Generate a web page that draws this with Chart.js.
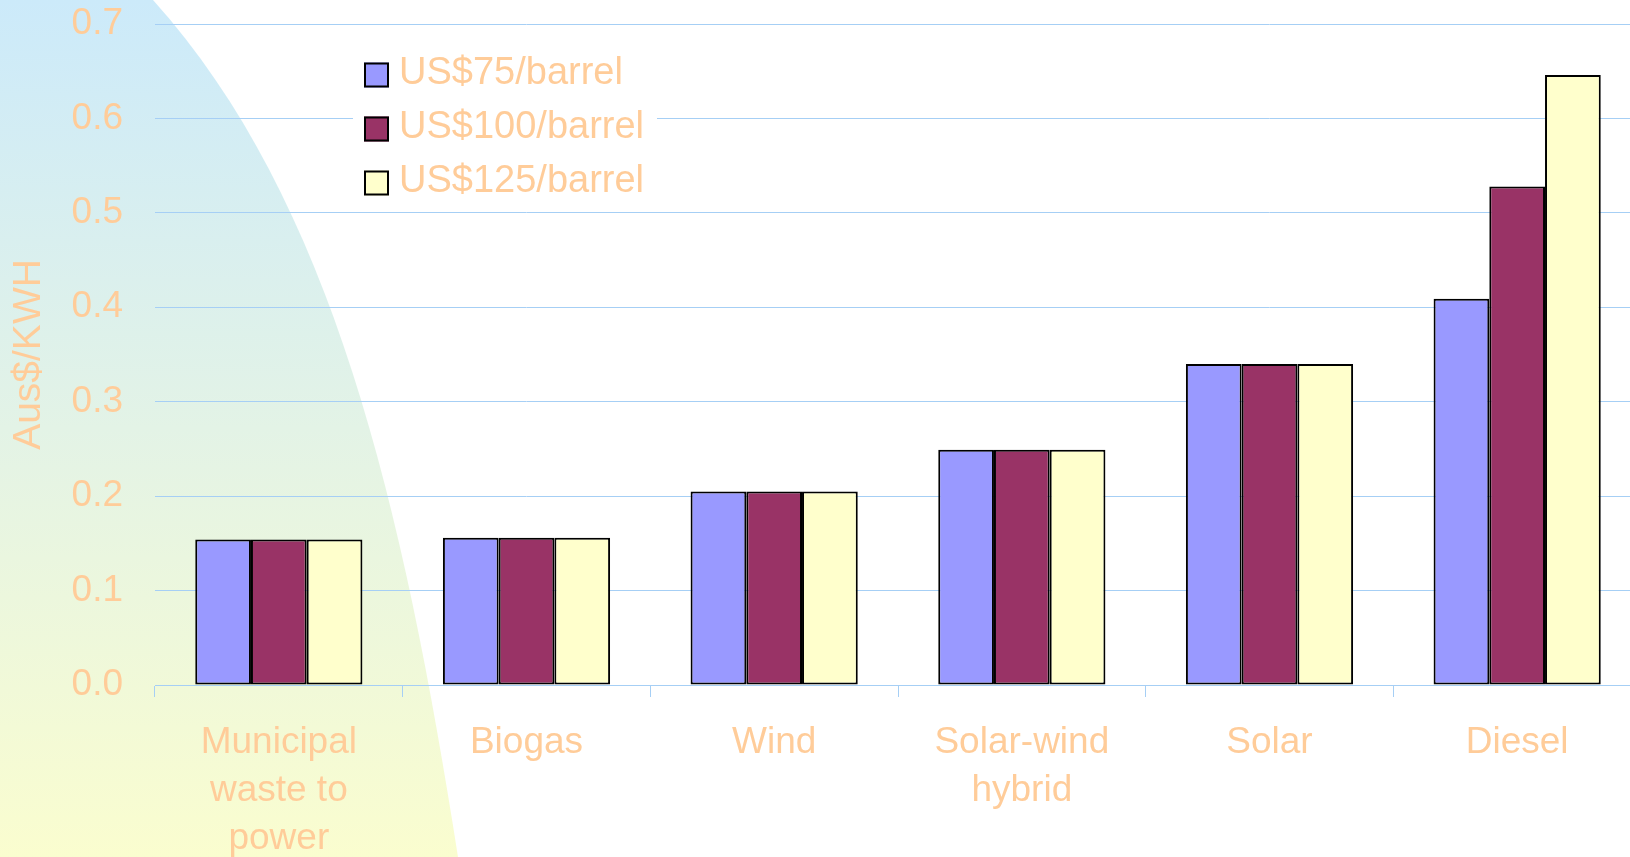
<!DOCTYPE html>
<html>
<head>
<meta charset="utf-8">
<script src="https://cdn.jsdelivr.net/npm/chart.js@4"></script>
<style>
  html, body { margin: 0; padding: 0; background: #fff; overflow: hidden; }
  #wrap { position: absolute; left: 0; top: 0; width: 1641px; height: 857px; }
</style>
</head>
<body>
<div id="wrap"><canvas id="myChart"></canvas></div>
<script>
const categories = [['Municipal', 'waste to', 'power'], 'Biogas', 'Wind', ['Solar-wind', 'hybrid'], 'Solar', 'Diesel'];
const series_names = ['US$75/barrel', 'US$100/barrel', 'US$125/barrel'];
const oil_75 = [0.154, 0.156, 0.205, 0.249, 0.340, 0.409];
const oil_100 = [0.154, 0.156, 0.205, 0.249, 0.340, 0.528];
const oil_125 = [0.154, 0.156, 0.205, 0.249, 0.340, 0.646];
const y_ticks = [0, 0.1, 0.2, 0.3, 0.4, 0.5, 0.6, 0.7];

const text_color = '#FFCC99';
const grid_color = '#A6CFF5';
const font_family = '"Liberation Sans", Arial, sans-serif';

// decorative swoosh on the left, behind the plot
const backgroundShape = {
    id: 'backgroundShape',
    beforeDraw: (chart) => {
        const ctx = chart.ctx;
        const h = chart.height;
        ctx.save();
        ctx.fillStyle = '#ffffff';
        ctx.fillRect(0, 0, chart.width, h);
        const grad = ctx.createLinearGradient(0, 0, 0, h);
        grad.addColorStop(0, '#CCEAFA');
        grad.addColorStop(0.5, '#E3F3E6');
        grad.addColorStop(1, '#FAFDCF');
        ctx.beginPath();
        ctx.moveTo(0, 0);
        ctx.lineTo(153, 0);
        ctx.bezierCurveTo(333, 200, 403, 507, 458, h);
        ctx.lineTo(0, h);
        ctx.closePath();
        ctx.fillStyle = grad;
        ctx.fill();
        ctx.restore();
    }
};

// legend drawn inside the plot area
const insideLegend = {
    id: 'insideLegend',
    afterDraw: (chart) => {
        const ctx = chart.ctx;
        ctx.save();
        ctx.fillStyle = '#ffffff';
        ctx.fillRect(353, 46, 304, 158);
        chart.data.datasets.forEach((ds, i) => {
            const cy = 74.5 + i * 54;
            ctx.fillStyle = ds.backgroundColor;
            ctx.fillRect(364, cy - 12, 25, 25);
            ctx.lineWidth = 2;
            ctx.strokeStyle = '#000000';
            ctx.strokeRect(365, cy - 11, 23, 23);
            ctx.fillStyle = text_color;
            ctx.font = '38px ' + font_family;
            ctx.textAlign = 'left';
            ctx.textBaseline = 'middle';
            ctx.fillText(ds.label, 399, cy - 1);
        });
        ctx.restore();
    }
};

const makeDataset = (label, data, color) => ({
    label,
    data,
    backgroundColor: color,
    borderColor: '#000000',
    borderWidth: 2,
    borderSkipped: false,
    categoryPercentage: 0.675,
    barPercentage: 1.0
});

const config = {
    type: 'bar',
    data: {
        labels: categories,
        datasets: [
            makeDataset(series_names[0], oil_75, '#9999FF'),
            makeDataset(series_names[1], oil_100, '#993366'),
            makeDataset(series_names[2], oil_125, '#FFFFCC')
        ]
    },
    options: {
        responsive: true,
        maintainAspectRatio: false,
        animation: false,
        layout: { padding: { top: 24, left: 0, right: 0, bottom: 0 } },
        plugins: {
            legend: { display: false },
            tooltip: { enabled: false }
        },
        scales: {
            x: {
                grid: {
                    offset: true,
                    drawOnChartArea: false,
                    drawTicks: true,
                    tickLength: 12,
                    color: grid_color
                },
                border: { color: grid_color },
                ticks: {
                    color: text_color,
                    font: { family: font_family, size: 37, lineHeight: 1.3 },
                    padding: 22,
                    maxRotation: 0,
                    autoSkip: false
                },
                afterFit: (scale) => { scale.height = 172; }
            },
            y: {
                min: 0,
                max: 0.7,
                afterBuildTicks: (scale) => { scale.ticks = y_ticks.map(v => ({ value: v })); },
                grid: { color: grid_color, drawTicks: false },
                border: { display: false },
                ticks: {
                    color: text_color,
                    font: { family: font_family, size: 37 },
                    padding: 32,
                    callback: (v) => Number(v).toFixed(1)
                },
                title: {
                    display: true,
                    text: 'Aus$/KWH',
                    color: text_color,
                    font: { family: font_family, size: 39 },
                    padding: { top: 6, bottom: 0 }
                },
                afterFit: (scale) => {
                    scale.width = 155;
                    scale.paddingTop = 0;
                    scale.paddingBottom = 0;
                }
            }
        }
    },
    plugins: [backgroundShape, insideLegend]
};

const myChart = document.getElementById('myChart');
new Chart(myChart, config);
</script>
</body>
</html>
